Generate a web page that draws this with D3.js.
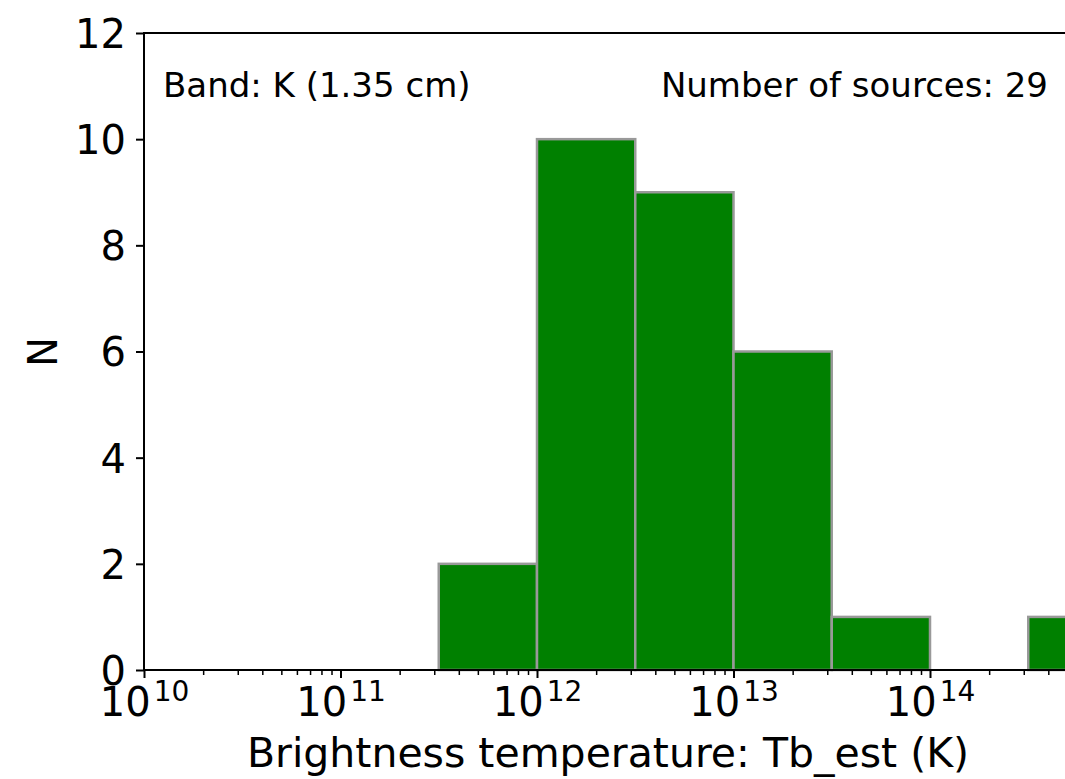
<!DOCTYPE html>
<html>
<head>
<meta charset="utf-8">
<script src="https://cdn.jsdelivr.net/npm/d3@7"></script>
<style>
  html, body { margin: 0; padding: 0; background: #fff; }
  svg { display: block; font-family: "DejaVu Sans", sans-serif; }
</style>
</head>
<body>
<svg id="chart" width="1065" height="779"></svg>
<script>
// Histogram of estimated brightness temperatures (half-decade bins, log10 K)
const binEdgesLog10 = [11.5, 12.0, 12.5, 13.0, 13.5, 14.0, 14.5, 15.0];
const binCounts = [2, 10, 9, 6, 1, 0, 1];
const yTicks = [0, 2, 4, 6, 8, 10, 12];
const xMajorExponents = [10, 11, 12, 13, 14];
const bandLabel = "Band: K (1.35 cm)";
const sourcesLabel = "Number of sources: 29";
const xLabel = "Brightness temperature: Tb_est (K)";
const yLabel = "N";

const svg = d3.select("#chart");
const plot = { left: 144, right: 1126.5, top: 33, bottom: 670 };

const x = d3.scaleLog().domain([1e10, 1e15]).range([plot.left, plot.right]);
const y = d3.scaleLinear().domain([0, 12]).range([plot.bottom, plot.top]);

const bins = binCounts.map((c, i) => ({
  x0: Math.pow(10, binEdgesLog10[i]),
  x1: Math.pow(10, binEdgesLog10[i + 1]),
  n: c
}));

// bars
svg.append("g").selectAll("rect")
  .data(bins.filter(d => d.n > 0))
  .join("rect")
  .attr("x", d => x(d.x0))
  .attr("y", d => y(d.n))
  .attr("width", d => x(d.x1) - x(d.x0))
  .attr("height", d => y(0) - y(d.n))
  .attr("fill", "#008000")
  .attr("stroke", "#999999")
  .attr("stroke-width", 2.5);

// spines
const spine = svg.append("g").attr("stroke", "#000").attr("stroke-width", 2).attr("fill", "none");
spine.append("line").attr("x1", plot.left).attr("x2", plot.left).attr("y1", plot.top).attr("y2", plot.bottom);
spine.append("line").attr("x1", plot.left - 1).attr("x2", plot.right).attr("y1", plot.bottom).attr("y2", plot.bottom);
spine.append("line").attr("x1", plot.left - 1).attr("x2", plot.right).attr("y1", plot.top).attr("y2", plot.top);

// y axis
const yAxis = d3.axisLeft(y).tickValues(yTicks).tickSize(8).tickPadding(10).tickFormat(d3.format("d"));
const gy = svg.append("g").attr("transform", `translate(${plot.left},0)`).call(yAxis);
gy.select(".domain").remove();
gy.selectAll(".tick line").attr("stroke-width", 2);
gy.selectAll(".tick text")
  .attr("font-size", 40).attr("font-family", "DejaVu Sans").attr("fill", "#000")
  .attr("dy", "0.36em");

// x axis: minor ticks
const minorVals = [];
xMajorExponents.forEach(e => {
  for (let k = 2; k <= 9; k++) minorVals.push(k * Math.pow(10, e));
});
const gxMinor = svg.append("g").attr("transform", `translate(0,${plot.bottom})`)
  .call(d3.axisBottom(x).tickValues(minorVals).tickSize(5).tickFormat(""));
gxMinor.select(".domain").remove();
gxMinor.selectAll(".tick line").attr("stroke-width", 1.5);

// x axis: major ticks with power-of-ten labels
const majorVals = xMajorExponents.map(e => Math.pow(10, e));
const gx = svg.append("g").attr("transform", `translate(0,${plot.bottom})`)
  .call(d3.axisBottom(x).tickValues(majorVals).tickSize(8).tickFormat(""));
gx.select(".domain").remove();
gx.selectAll(".tick line").attr("stroke-width", 2);
gx.selectAll(".tick").each(function(d, i) {
  const t = d3.select(this).append("text")
    .attr("y", 46)
    .attr("text-anchor", "middle")
    .attr("font-family", "DejaVu Sans")
    .attr("fill", "#000");
  t.append("tspan").attr("font-size", 40).text("10");
  t.append("tspan").attr("font-size", 28).attr("dy", -15).attr("dx", 3).text(xMajorExponents[i]);
});

// axis titles
svg.append("text")
  .attr("x", 608).attr("y", 767)
  .attr("text-anchor", "middle")
  .attr("font-size", 41)
  .attr("fill", "#000")
  .text(xLabel);

svg.append("text")
  .attr("transform", "translate(57,352) rotate(-90)")
  .attr("text-anchor", "middle")
  .attr("font-size", 40)
  .attr("fill", "#000")
  .text(yLabel);

// annotations inside the axes
svg.append("text")
  .attr("x", 163).attr("y", 97)
  .attr("font-size", 34)
  .attr("fill", "#000")
  .text(bandLabel);

svg.append("text")
  .attr("x", 1048).attr("y", 97)
  .attr("text-anchor", "end")
  .attr("font-size", 34)
  .attr("fill", "#000")
  .text(sourcesLabel);
</script>
</body>
</html>
